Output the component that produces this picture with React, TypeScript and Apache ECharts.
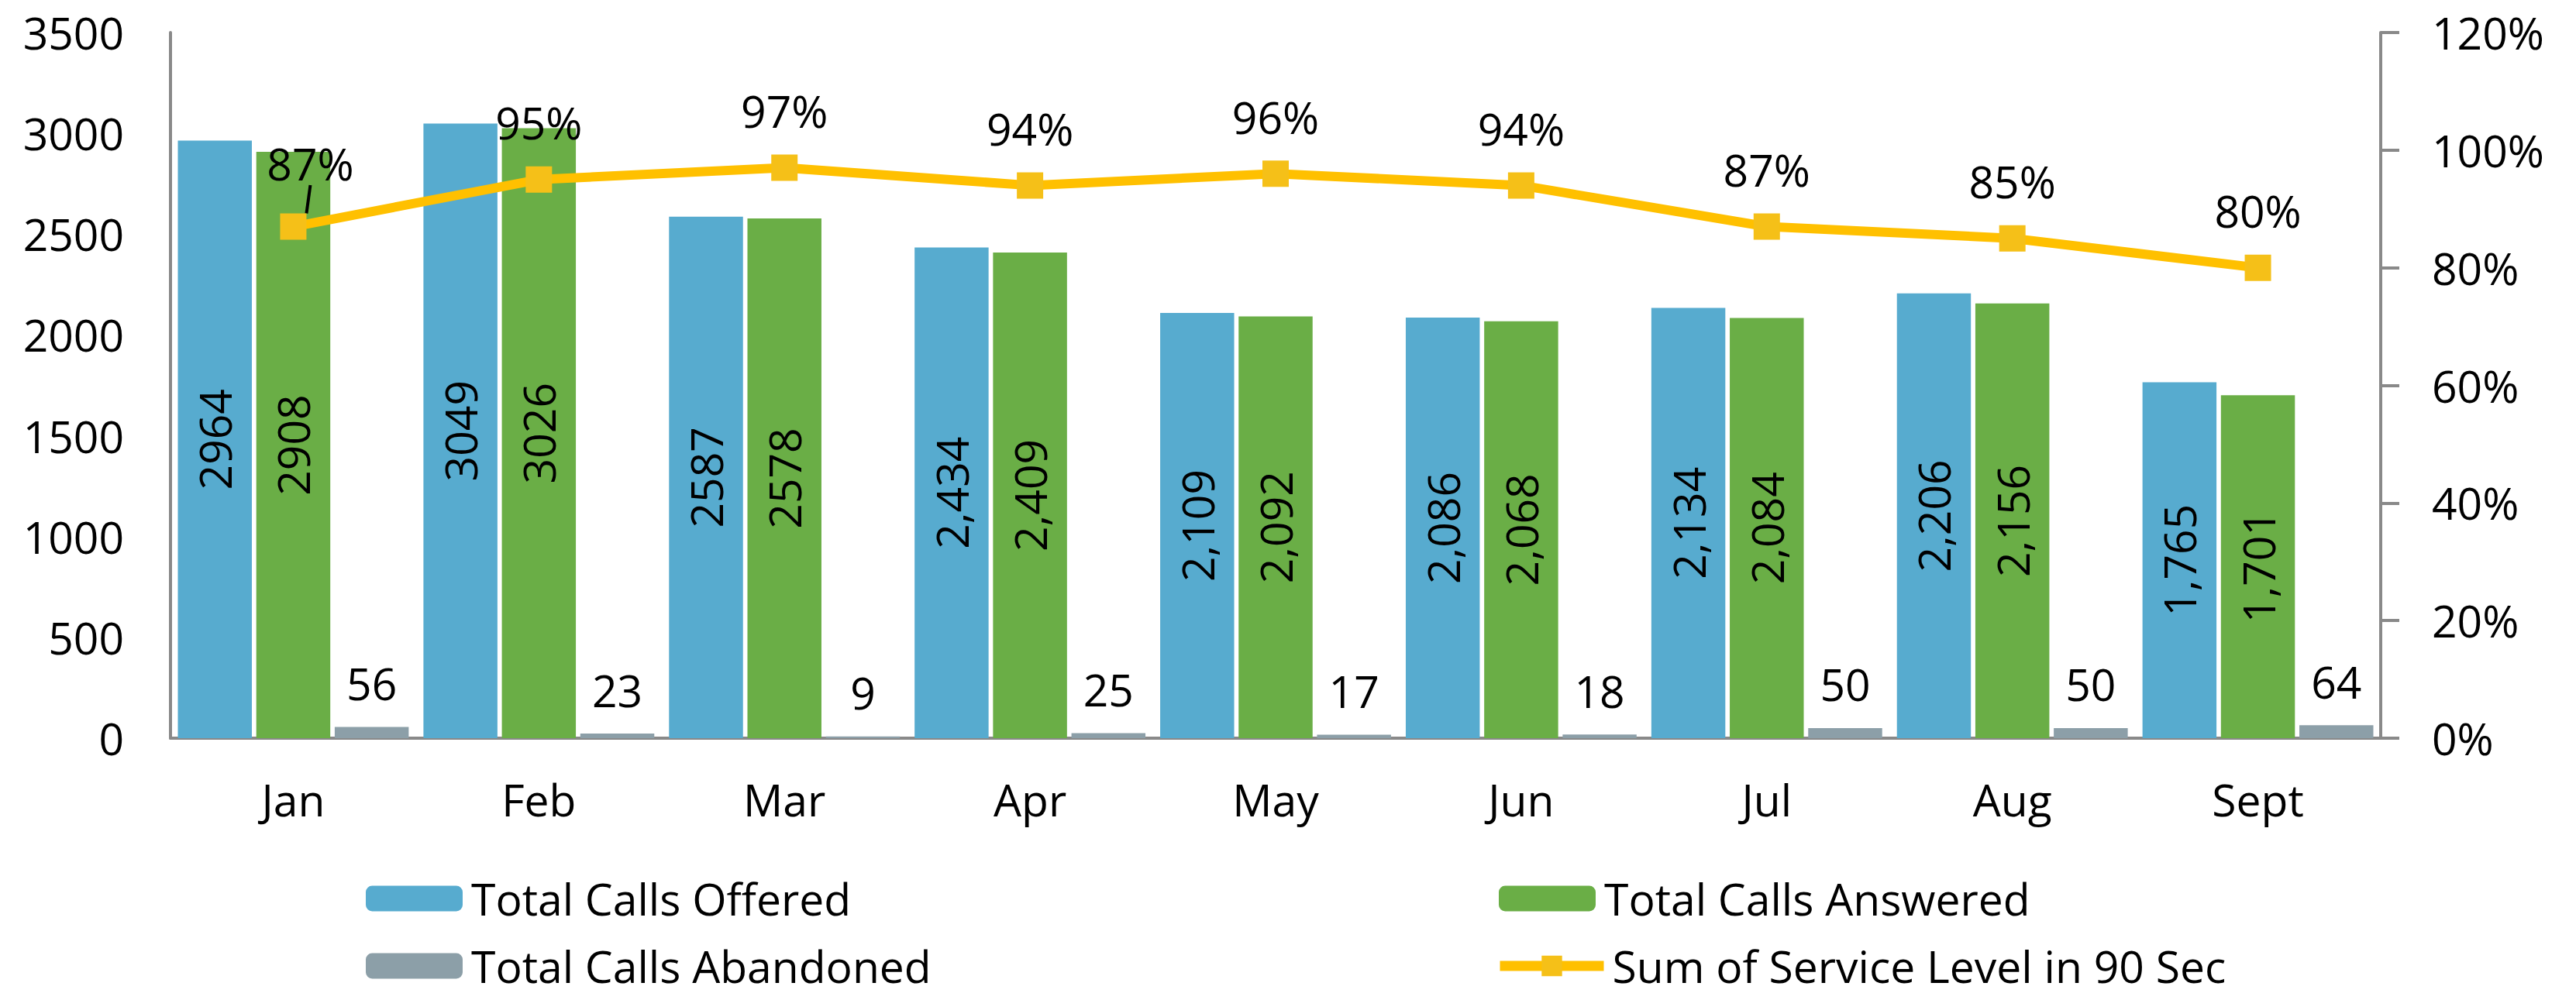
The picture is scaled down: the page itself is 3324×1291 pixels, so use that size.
import React, { useEffect, useRef } from "react";
import * as echarts from "echarts";

const months = ["Jan", "Feb", "Mar", "Apr", "May", "Jun", "Jul", "Aug", "Sept"];
const callsOffered = [2964, 3049, 2587, 2434, 2109, 2086, 2134, 2206, 1765];
const callsAnswered = [2908, 3026, 2578, 2409, 2092, 2068, 2084, 2156, 1701];
const callsAbandoned = [56, 23, 9, 25, 17, 18, 50, 50, 64];
const serviceLevel = [87, 95, 97, 94, 96, 94, 87, 85, 80];
// months whose bar labels are shown with a thousands separator in the source
const thousandsSeparator = [false, false, false, true, true, true, true, true, true];

const seriesNames = [
  "Total Calls Offered",
  "Total Calls Answered",
  "Total Calls Abandoned",
  "Sum of Service Level in 90 Sec",
];

const FONT = "'Open Sans', sans-serif";
const FS = 57;
const AXIS_COLOR = "#898989";
const LINE_COLOR = "#FFC000";
const MARKER_COLOR = "#F5C018";

function fmt(v: number, i: number) {
  if (thousandsSeparator[i]) return v.toLocaleString("en-US");
  return String(v);
}

function legendFor(name: string, left: number, top: number, itemWidth: number, extra: any = {}) {
  return {
    left,
    top,
    itemWidth,
    itemHeight: 33,
    selectedMode: false,
    textStyle: {
      fontFamily: FONT,
      fontSize: FS,
      lineHeight: 60,
      color: "#000",
      padding: [0, 0, 0, 6],
    },
    data: [{ name, ...extra }],
  };
}

export default function App() {
  const ref = useRef<HTMLDivElement>(null);
  useEffect(() => {
    document.body.style.margin = "0";
    const chart = echarts.init(ref.current!, undefined, { renderer: "svg" });
    const insideLabel = {
      show: true,
      position: "inside",
      rotate: 90,
      color: "#000",
      fontFamily: FONT,
      fontSize: FS,
      formatter: (p: any) => fmt(p.value, p.dataIndex),
    };
    chart.setOption({
      animation: false,
      textStyle: { fontFamily: FONT },
      grid: { left: 220, right: 252, top: 42, bottom: 338, containLabel: false },
      legend: [
        legendFor(seriesNames[0], 467, 1125, 125),
        legendFor(seriesNames[2], 467, 1212, 125),
        legendFor(seriesNames[1], 1929, 1125, 125),
        legendFor(seriesNames[3], 1924, 1212, 134, {
          lineStyle: { color: LINE_COLOR, width: 13 },
          itemStyle: { color: MARKER_COLOR },
        }),
      ],
      xAxis: {
        type: "category",
        data: months,
        axisLine: { lineStyle: { color: AXIS_COLOR, width: 4 } },
        axisTick: { show: false },
        axisLabel: { color: "#000", fontFamily: FONT, fontSize: FS, margin: 50 },
      },
      yAxis: [
        {
          type: "value",
          min: 0,
          max: 3500,
          interval: 500,
          axisLine: { show: true, lineStyle: { color: AXIS_COLOR, width: 4 } },
          axisTick: { show: false },
          splitLine: { show: false },
          axisLabel: {
            color: "#000",
            fontFamily: FONT,
            fontSize: FS,
            margin: 60,
            formatter: (v: number) => String(v),
          },
        },
        {
          type: "value",
          min: 0,
          max: 120,
          interval: 20,
          position: "right",
          axisLine: { show: true, lineStyle: { color: AXIS_COLOR, width: 4 } },
          axisTick: { show: true, length: 24, lineStyle: { color: AXIS_COLOR, width: 4 } },
          splitLine: { show: false },
          axisLabel: {
            color: "#000",
            fontFamily: FONT,
            fontSize: FS,
            margin: 66,
            formatter: "{value}%",
          },
        },
      ],
      series: [
        {
          name: seriesNames[0],
          type: "bar",
          data: callsOffered,
          barGap: "6%",
          barCategoryGap: "6%",
          itemStyle: { color: "#57ABCF" },
          label: insideLabel,
        },
        {
          name: seriesNames[1],
          type: "bar",
          data: callsAnswered,
          itemStyle: { color: "#6AAE46" },
          label: insideLabel,
        },
        {
          name: seriesNames[2],
          type: "bar",
          data: callsAbandoned,
          itemStyle: { color: "#8C9FA8" },
          label: {
            show: true,
            position: "top",
            distance: 28,
            color: "#000",
            fontFamily: FONT,
            fontSize: FS,
          },
        },
        {
          name: seriesNames[3],
          type: "line",
          yAxisIndex: 1,
          data: serviceLevel.map((v, i) =>
            i === 0
              ? {
                  value: v,
                  label: { lineHeight: 44 },
                  labelLine: { show: true, lineStyle: { color: "#000", width: 4 } },
                }
              : v
          ),
          symbol: "rect",
          symbolSize: 34,
          lineStyle: { color: LINE_COLOR, width: 12 },
          itemStyle: { color: MARKER_COLOR },
          label: {
            show: true,
            position: "top",
            distance: 28,
            color: "#000",
            fontFamily: FONT,
            fontSize: FS,
            formatter: "{c}%",
          },
          labelLayout: (p: any) => (p.dataIndex === 0 ? { dx: 22, dy: -15 } : {}),
          z: 5,
        },
      ],
    });
    return () => chart.dispose();
  }, []);
  return <div ref={ref} style={{ width: 3324, height: 1291 }} />;
}
